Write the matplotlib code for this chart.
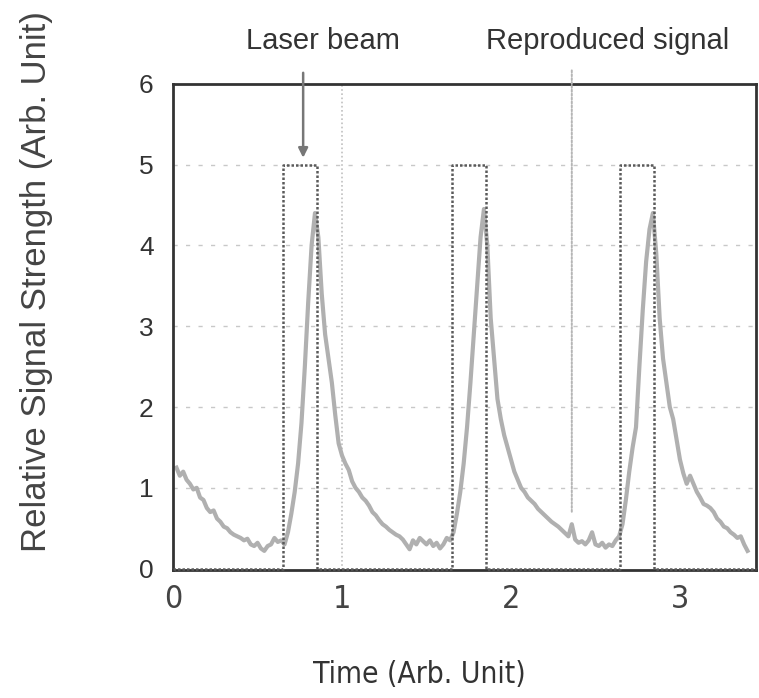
import matplotlib
matplotlib.use("Agg")
import matplotlib.pyplot as plt

# ---- data ----
pulse_starts = [0.65, 1.65, 2.645]
pulse_ends = [0.85, 1.85, 2.845]
pulse_height = 5.0

signal_time = [0.02, 0.04, 0.06, 0.08, 0.10, 0.12, 0.14, 0.16, 0.18, 0.20,
               0.22, 0.24, 0.26, 0.28, 0.30, 0.32, 0.34, 0.36, 0.38, 0.40,
               0.42, 0.44, 0.46, 0.48, 0.50, 0.52, 0.54, 0.56, 0.58, 0.60,
               0.62, 0.64, 0.66, 0.68, 0.70, 0.72, 0.74, 0.76, 0.78, 0.80,
               0.82, 0.84, 0.86, 0.88, 0.90, 0.92, 0.94, 0.96, 0.98, 1.00,
               1.02, 1.04, 1.06, 1.08, 1.10, 1.12, 1.14, 1.16, 1.18, 1.20,
               1.22, 1.24, 1.26, 1.28, 1.30, 1.32, 1.34, 1.36, 1.38, 1.40,
               1.42, 1.44, 1.46, 1.48, 1.50, 1.52, 1.54, 1.56, 1.58, 1.60,
               1.62, 1.64, 1.66, 1.68, 1.70, 1.72, 1.74, 1.76, 1.78, 1.80,
               1.82, 1.84, 1.86, 1.88, 1.90, 1.92, 1.94, 1.96, 1.98, 2.00,
               2.02, 2.04, 2.06, 2.08, 2.10, 2.12, 2.14, 2.16, 2.18, 2.20,
               2.22, 2.24, 2.26, 2.28, 2.30, 2.32, 2.34, 2.36, 2.38, 2.40,
               2.42, 2.44, 2.46, 2.48, 2.50, 2.52, 2.54, 2.56, 2.58, 2.60,
               2.62, 2.64, 2.66, 2.68, 2.70, 2.72, 2.74, 2.76, 2.78, 2.80,
               2.82, 2.84, 2.86, 2.88, 2.90, 2.92, 2.94, 2.96, 2.98, 3.00,
               3.02, 3.04, 3.06, 3.08, 3.10, 3.12, 3.14, 3.16, 3.18, 3.20,
               3.22, 3.24, 3.26, 3.28, 3.30, 3.32, 3.34, 3.36, 3.38, 3.40]
signal_value = [1.25, 1.15, 1.20, 1.10, 1.05, 0.98, 1.00, 0.88, 0.85, 0.75,
                0.70, 0.72, 0.62, 0.58, 0.52, 0.50, 0.45, 0.42, 0.40, 0.38,
                0.35, 0.37, 0.30, 0.28, 0.32, 0.25, 0.22, 0.28, 0.30, 0.38,
                0.33, 0.35, 0.30, 0.45, 0.68, 0.95, 1.30, 1.80, 2.50, 3.30,
                4.00, 4.40, 4.10, 3.40, 2.90, 2.60, 2.30, 1.90, 1.55, 1.40,
                1.30, 1.22, 1.08, 1.00, 0.95, 0.88, 0.84, 0.78, 0.70, 0.66,
                0.60, 0.55, 0.52, 0.48, 0.45, 0.42, 0.40, 0.36, 0.30, 0.24,
                0.35, 0.30, 0.38, 0.34, 0.30, 0.35, 0.28, 0.32, 0.25, 0.30,
                0.38, 0.35, 0.45, 0.68, 0.95, 1.30, 1.75, 2.30, 2.90, 3.50,
                4.10, 4.45, 4.00, 3.10, 2.60, 2.10, 1.85, 1.65, 1.50, 1.35,
                1.20, 1.10, 1.00, 0.95, 0.88, 0.84, 0.80, 0.74, 0.70, 0.66,
                0.62, 0.58, 0.55, 0.52, 0.48, 0.44, 0.40, 0.55, 0.36, 0.32,
                0.34, 0.30, 0.35, 0.45, 0.30, 0.28, 0.32, 0.26, 0.30, 0.28,
                0.35, 0.40, 0.55, 0.85, 1.20, 1.50, 1.75, 2.50, 3.20, 3.80,
                4.20, 4.40, 3.90, 3.10, 2.60, 2.30, 2.00, 1.85, 1.60, 1.35,
                1.18, 1.05, 1.15, 1.05, 0.95, 0.88, 0.80, 0.78, 0.75, 0.70,
                0.62, 0.58, 0.52, 0.50, 0.45, 0.42, 0.38, 0.40, 0.30, 0.22]

x_ticks = [0, 1, 2, 3]
y_ticks = [0, 1, 2, 3, 4, 5, 6]
y_grid = [1, 2, 3, 4, 5]

# ---- figure ----
fig = plt.figure(figsize=(7.59, 6.98), dpi=100)
ax = fig.add_axes([0.228, 0.183, 0.768, 0.697])
ax.set_xlim(0, 3.45)
ax.set_ylim(-0.02, 6)

for yv in y_grid:
    ax.axhline(yv, color="#c8c8c8", lw=1.0, ls=(0, (3, 6)), zorder=1)
ax.axvline(1.0, color="#c0c0c0", lw=1.2, ls=(0, (1, 1.5)), zorder=1)

# reproduced signal
ax.plot(signal_time, signal_value, color="#b0b0b0", lw=3.0, zorder=2,
        solid_joinstyle="round")

# laser beam pulses
lx, ly = [0.0], [0.0]
for s, e in zip(pulse_starts, pulse_ends):
    lx += [s, s, e, e]
    ly += [0.0, pulse_height, pulse_height, 0.0]
lx.append(3.45)
ly.append(0.0)
ax.plot(lx, ly, color="#5a5a5a", lw=1.8, ls=(0, (1, 0.8)), zorder=3,
        clip_on=False)

# annotations
ax.annotate("", xy=(0.77, 5.05), xytext=(0.77, 6.17),
            arrowprops=dict(arrowstyle="-|>", color="#777777", lw=1.8,
                            mutation_scale=14),
            annotation_clip=False, zorder=4)
ax.annotate("", xy=(2.36, 0.65), xytext=(2.36, 6.2),
            arrowprops=dict(arrowstyle="-", color="#b5b5b5", lw=1.4,
                            ls=(0, (1, 1))),
            annotation_clip=False, zorder=4)
fig.text(0.425, 0.941, "Laser beam", ha="center", va="center",
         fontsize=21, family="Liberation Sans", color="#333333")
fig.text(0.801, 0.941, "Reproduced signal", ha="center", va="center",
         fontsize=21, family="Liberation Sans", color="#333333")

# spines
for sp in ax.spines.values():
    sp.set_color("#333333")
    sp.set_linewidth(2.0)

ax.set_xticks(x_ticks)
ax.set_yticks(y_ticks)
ax.tick_params(length=0)
ax.tick_params(axis="x", pad=10)
ax.tick_params(axis="y", pad=14)
for lab in ax.get_xticklabels():
    lab.set_family("DejaVu Sans")
    lab.set_stretch("condensed")
    lab.set_fontsize(23)
    lab.set_color("#444444")
for lab in ax.get_yticklabels():
    lab.set_family("Liberation Sans")
    lab.set_fontsize(19)
    lab.set_color("#333333")

ax.set_xlabel("Time (Arb. Unit)", family="DejaVu Sans", fontstretch="condensed",
              fontsize=21.5, color="#333333")
ax.xaxis.set_label_coords(0.422, -0.185)
ax.set_ylabel("Relative Signal Strength (Arb. Unit)",
              family="Liberation Sans", fontsize=25, color="#444444")
ax.yaxis.set_label_coords(-0.206, 0.593)

fig.savefig("out.png", dpi=100)
